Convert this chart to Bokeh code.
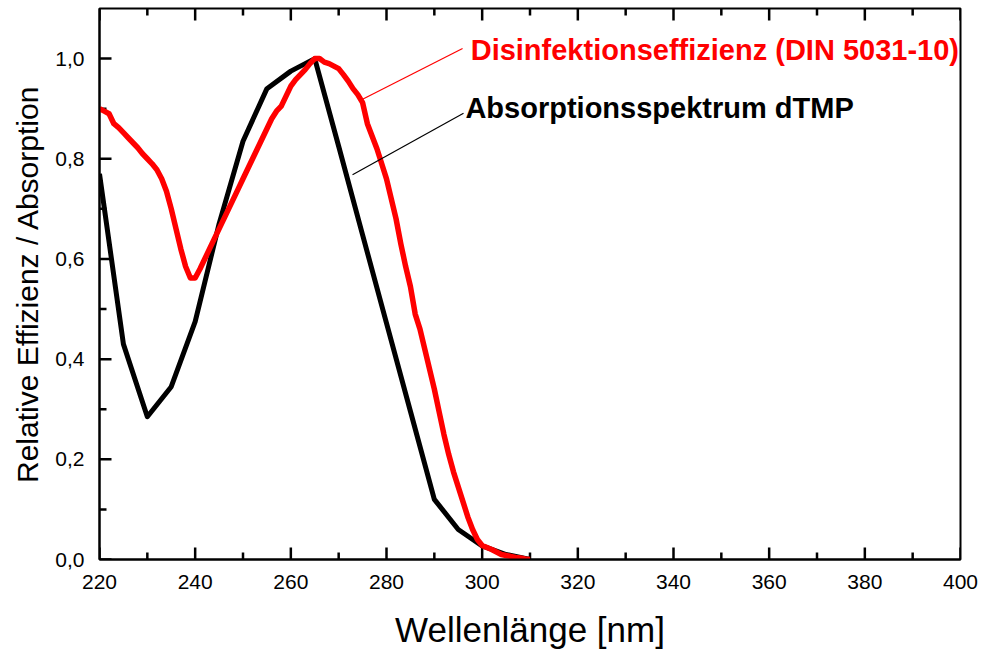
from bokeh.plotting import figure
from bokeh.models import Range1d, FixedTicker, Label
from bokeh.embed import file_html
from bokeh.resources import INLINE

# --- data ---
abs_nm = [220, 225, 230, 235, 240, 245, 250, 255, 260, 265, 270, 275, 280, 285, 290, 295, 300, 305, 310]
abs_val = [0.77, 0.43, 0.285, 0.345, 0.475, 0.67, 0.835, 0.94, 0.975, 1.0, 0.825, 0.648, 0.472, 0.296, 0.12, 0.06, 0.027, 0.01, 0.0]

eff_nm = list(range(220, 311))
eff_val = [
    0.900, 0.895, 0.890, 0.870, 0.862, 0.852, 0.842, 0.832, 0.822, 0.810,  # 220-229
    0.800, 0.790, 0.778, 0.760, 0.735, 0.700, 0.660, 0.620, 0.585, 0.562,  # 230-239
    0.562, 0.580, 0.600, 0.620, 0.640, 0.660, 0.680, 0.700, 0.720, 0.740,  # 240-249
    0.760, 0.780, 0.800, 0.820, 0.840, 0.860, 0.880, 0.895, 0.905, 0.925,  # 250-259
    0.945, 0.958, 0.968, 0.978, 0.990, 1.000, 1.000, 0.993, 0.990, 0.985,  # 260-269
    0.980, 0.968, 0.955, 0.940, 0.928, 0.912, 0.870, 0.845, 0.820, 0.790,  # 270-279
    0.760, 0.720, 0.680, 0.630, 0.585, 0.545, 0.490, 0.460, 0.420, 0.380,  # 280-289
    0.340, 0.295, 0.250, 0.210, 0.175, 0.145, 0.115, 0.085, 0.060, 0.040,  # 290-299
    0.028, 0.024, 0.020, 0.015, 0.010, 0.008, 0.006, 0.004, 0.003, 0.001,  # 300-309
    0.000,                                                                  # 310
]

x_start, x_end = 220, 400
y_start, y_end = 0.0, 1.1
x_ticks = [220, 240, 260, 280, 300, 320, 340, 360, 380, 400]
x_minor = [230, 250, 270, 290, 310, 330, 350, 370, 390]
y_ticks = [0.0, 0.2, 0.4, 0.6, 0.8, 1.0]
y_minor = [0.1, 0.3, 0.5, 0.7, 0.9]
y_tick_labels = ["0,0", "0,2", "0,4", "0,6", "0,8", "1,0"]

eff_label = "Disinfektionseffizienz (DIN 5031-10)"
abs_label = "Absorptionsspektrum dTMP"
eff_label_pos = (297.6, 1.018)
abs_label_pos = (296.5, 0.901)
eff_leader_x = [275.0, 295.9]
eff_leader_y = [0.919, 1.020]
abs_leader_x = [272.9, 296.1]
abs_leader_y = [0.768, 0.891]

FONT = "Liberation Sans"
W, H = 990, 651
FRAME_L, FRAME_R, FRAME_T, FRAME_B = 99, 960, 8, 562

p = figure(width=W, height=H, output_backend="svg", toolbar_location=None,
           x_range=Range1d(x_start, x_end), y_range=Range1d(y_start, y_end),
           min_border_left=FRAME_L, min_border_right=W - FRAME_R,
           min_border_top=FRAME_T, min_border_bottom=H - FRAME_B)
p.xgrid.visible = False
p.ygrid.visible = False
p.background_fill_color = "white"
p.border_fill_color = "white"
p.outline_line_color = "black"
p.outline_line_width = 2
p.outline_line_alpha = 1.0

xt = FixedTicker(ticks=x_ticks, minor_ticks=x_minor)
yt = FixedTicker(ticks=y_ticks, minor_ticks=y_minor)

for ax in p.xaxis:
    ax.ticker = xt
for ax in p.yaxis:
    ax.ticker = yt
    ax.major_label_overrides = {v: s for v, s in zip(y_ticks, y_tick_labels)}

for ax in p.xaxis + p.yaxis:
    ax.axis_line_width = 2
    ax.axis_line_color = "black"
    ax.major_tick_in = 0
    ax.major_tick_out = 0
    ax.minor_tick_in = 0
    ax.minor_tick_out = 0
    ax.major_label_text_font = FONT
    ax.major_label_text_font_size = "21px"
    ax.major_label_text_color = "black"
    ax.axis_label_text_font = FONT
    ax.axis_label_text_font_style = "normal"
    ax.axis_label_text_color = "black"

p.xaxis.axis_label = "Wellenlänge [nm]"
p.xaxis.axis_label_text_font_size = "35px"
p.xaxis.major_label_standoff = 15
p.xaxis.axis_label_standoff = 18

p.yaxis.axis_label = "Relative Effizienz / Absorption"
p.yaxis.axis_label_text_font_size = "30px"
p.yaxis.major_label_standoff = 15
p.yaxis.axis_label_standoff = 8

# inward ticks drawn as filled thin quads (sizes converted from pixels to data units)
dx_px = (x_end - x_start) / (FRAME_R - FRAME_L)
dy_px = (y_end - y_start) / (FRAME_B - FRAME_T)
MAJ, MIN, HW = 12, 7, 1.25
q_kw = dict(fill_color="black", line_color=None)
for ticks, ln in ((x_ticks, MAJ), (x_minor, MIN)):
    n = len(ticks)
    p.quad(left=[t - HW * dx_px for t in ticks], right=[t + HW * dx_px for t in ticks],
           bottom=[y_start] * n, top=[y_start + ln * dy_px] * n, **q_kw)
    p.quad(left=[t - HW * dx_px for t in ticks], right=[t + HW * dx_px for t in ticks],
           bottom=[y_end - ln * dy_px] * n, top=[y_end] * n, **q_kw)
for ticks, ln in ((y_ticks, MAJ), (y_minor, MIN)):
    n = len(ticks)
    p.quad(left=[x_start] * n, right=[x_start + ln * dx_px] * n,
           bottom=[t - HW * dy_px for t in ticks], top=[t + HW * dy_px for t in ticks], **q_kw)

p.line(abs_nm, abs_val, line_color="black", line_width=5, line_join="round")
p.line(eff_nm, eff_val, line_color="#ff0000", line_width=5.5, line_join="round")

p.line(eff_leader_x, eff_leader_y, line_color="#ff0000", line_width=1.2)
p.line(abs_leader_x, abs_leader_y, line_color="black", line_width=1.2)

p.add_layout(Label(x=eff_label_pos[0], y=eff_label_pos[1], text=eff_label, text_font=FONT,
                   text_font_size="29px", text_font_style="bold", text_color="#ff0000",
                   text_baseline="alphabetic"))
p.add_layout(Label(x=abs_label_pos[0], y=abs_label_pos[1], text=abs_label, text_font=FONT,
                   text_font_size="29px", text_font_style="bold", text_color="black",
                   text_baseline="alphabetic"))

open("out.html", "w").write(file_html(p, INLINE))
